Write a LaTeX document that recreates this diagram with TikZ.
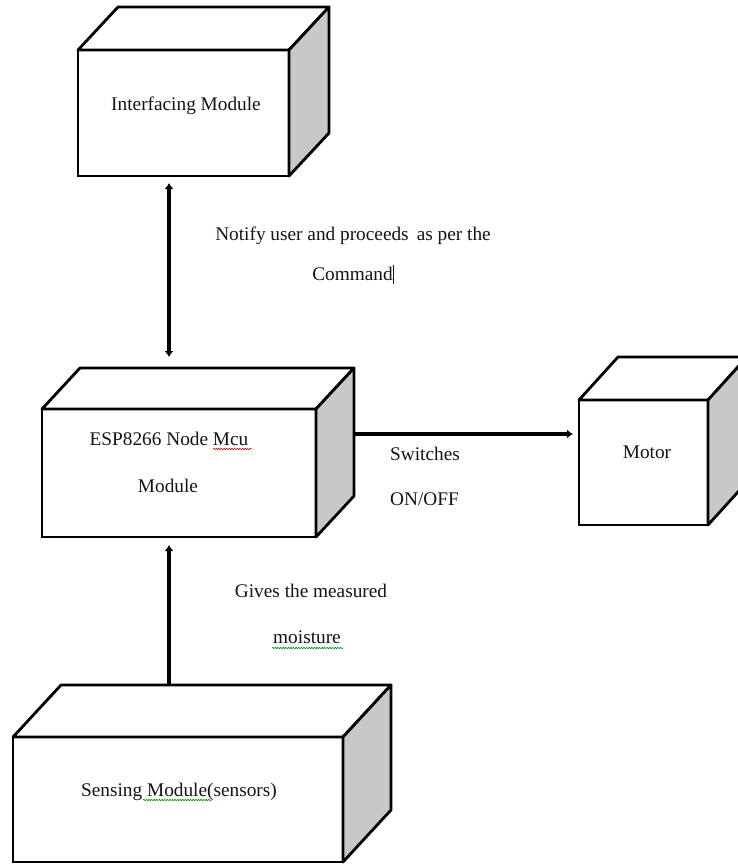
\documentclass[tikz,border=0pt]{standalone}
\usepackage{fontspec}
\setmainfont{Liberation Serif}
\usetikzlibrary{arrows.meta,calc,decorations.pathmorphing}
\definecolor{sidegray}{RGB}{200,200,200}
\definecolor{inkc}{RGB}{20,20,20}
\begin{document}
\begin{tikzpicture}[x=1pt,y=-1pt,
  face/.style={draw=black,line width=2.8pt,fill=white,inner sep=0pt,outer sep=0pt},
  edge3d/.style={draw=black,line width=2.8pt,line join=round},
  lbl/.style={anchor=base,inner sep=0pt,text=inkc,font=\fontsize{19.3}{23}\selectfont},
  lblw/.style={lbl,anchor=base west},
  arr/.style={line width=4.4pt,-{Latex[length=6pt,width=9pt]}},
  darr/.style={line width=4.4pt,{Latex[length=6pt,width=9pt]}-{Latex[length=6pt,width=9pt]}},
  spell/.style={line width=0.6pt,decorate,decoration={snake,amplitude=0.7pt,segment length=2.6pt}}]
\useasboundingbox (0,0) rectangle (738,865);
\clip (0,0) rectangle (738,865);

% ---------- Interfacing Module box
\node[face,minimum width=211pt,minimum height=126pt] (int) at (183.5,113) {};
\filldraw[edge3d,fill=white] (int.north west) -- ++(40,-43) -- ++(211,0) -- (int.north east) -- cycle;
\filldraw[edge3d,fill=sidegray] (int.north east) -- ++(40,-43) -- ++(0,126) -- (int.south east) -- cycle;
\node[lbl] (tint) at (186,110) {Interfacing Module};

% ---------- ESP8266 box
\node[face,minimum width=274pt,minimum height=128pt] (esp) at (179,473) {};
\filldraw[edge3d,fill=white] (esp.north west) -- ++(38,-41) -- ++(274,0) -- (esp.north east) -- cycle;
\filldraw[edge3d,fill=sidegray] (esp.north east) -- ++(38,-41) -- ++(0,128) -- (esp.south east) -- cycle;
\node[lbl] (tesp1) at (169,445) {ESP8266 Node Mcu};
\node[lbl] (tesp2) at (168,492) {Module};
\draw[spell,red!80!black] (213,449) -- (252,449);

% ---------- Motor box
\node[face,minimum width=129pt,minimum height=125pt] (mot) at (643.5,462.5) {};
\filldraw[edge3d,fill=white] (mot.north west) -- ++(39,-43) -- ++(129,0) -- (mot.north east) -- cycle;
\filldraw[edge3d,fill=sidegray] (mot.north east) -- ++(39,-43) -- ++(0,125) -- (mot.south east) -- cycle;
\node[lbl] (tmot) at (647,458) {Motor};

% ---------- Sensing Module box
\node[face,minimum width=330pt,minimum height=125pt] (sen) at (178,799.5) {};
\filldraw[edge3d,fill=white] (sen.north west) -- ++(48,-52) -- ++(330,0) -- (sen.north east) -- cycle;
\filldraw[edge3d,fill=sidegray] (sen.north east) -- ++(48,-52) -- ++(0,125) -- (sen.south east) -- cycle;
\node[lbl] (tsen) at (179,796) {Sensing Module(sensors)};
\draw[spell,green!55!black] (143,800) -- (212,800);

% ---------- connectors
\draw[darr] ($(int.south west)+(91,7)$) -- ($(esp.north west)+(127,-52)$);
\draw[arr] ($(esp.north east)+(38,25)$) -- ($(mot.north west)+(-6,34)$);
\draw[arr] ($(sen.north west)+(156,-52)$) -- ($(esp.south west)+(127,8)$);

% ---------- connector labels
\node[lbl] (n1) at (353,240) {Notify user and proceeds\, as per the};
\node[lbl] (n2) at (353,280) {Command\rule[-4pt]{0.9pt}{19pt}};
\node[lblw] (s1) at (390,460) {Switches};
\node[lblw] (s2) at (390,505) {ON/OFF};
\node[lbl] (g1) at (311,597) {Gives the measured};
\node[lbl] (g2) at (307,643) {moisture};
\draw[spell,green!55!black] (272,648) -- (343,648);
\end{tikzpicture}
\end{document}
